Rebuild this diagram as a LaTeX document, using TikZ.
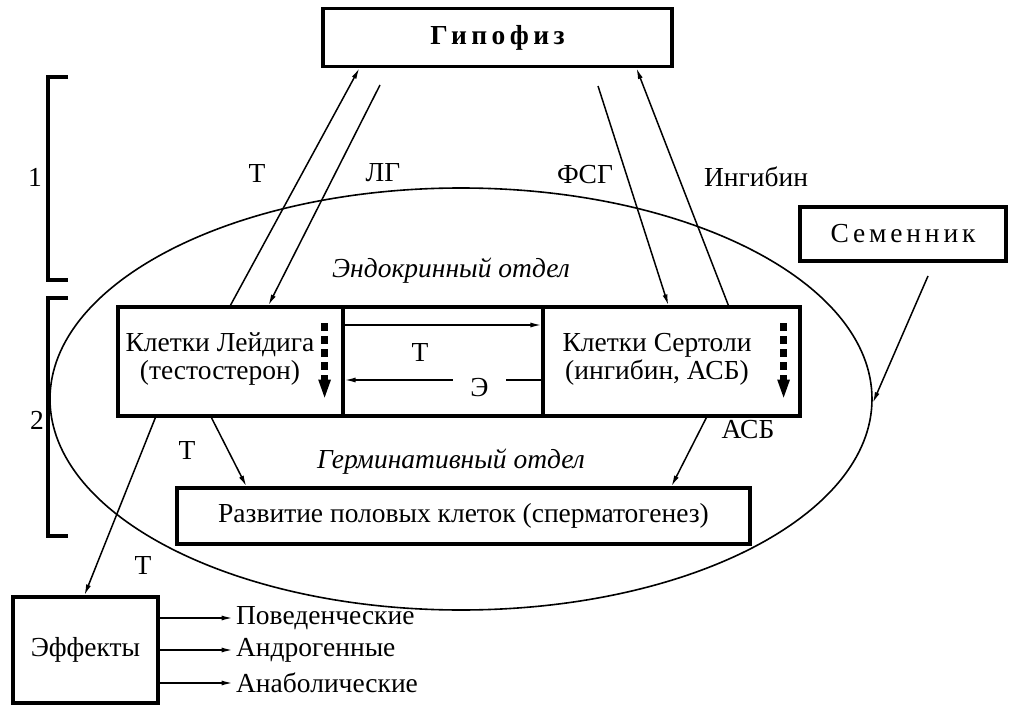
\documentclass[tikz,border=0pt]{standalone}
\usepackage{fontspec}
\setmainfont{Liberation Serif}
\usetikzlibrary{arrows.meta,shapes.geometric}
\newcommand{\razmer}{\fontsize{27.5}{28}\selectfont}

\begin{document}
\begin{tikzpicture}[x=1pt,y=-1pt,font=\razmer,
    blok/.style={draw,line width=3.2pt,inner sep=0pt},
    strelka/.style={line width=1.5pt,-{Latex[length=11pt,width=5pt]}},
    impuls/.style={line width=6.5pt,dash pattern=on 8pt off 5pt,-{Triangle[length=20pt,width=11pt]}},
    skobka/.style={line width=3.2pt},
    otdel/.style={font=\razmer\itshape}]
  \useasboundingbox (0,0) rectangle (1010,706);
  % гипофиз, семенник, яичко
  \node[blok,minimum width=349pt,minimum height=58pt] (gipofiz) at (497.5,37.5)
    {\bfseries\addfontfeature{LetterSpace=16}Гипофиз};
  \node[blok,minimum width=206pt,minimum height=54pt] (semennik) at (903,234)
    {\addfontfeature{LetterSpace=14}Семенник};
  \node[draw,ellipse,line width=1.6pt,minimum width=822pt,minimum height=422pt] (yaichko) at (461,399) {};
  % клетки
  \node[blok,minimum width=225pt,minimum height=109pt] (leydig) at (230.5,361.5) {};
  \node[blok,minimum width=200pt,minimum height=109pt] (mezhdu) at (443,361.5) {};
  \node[blok,minimum width=257pt,minimum height=109pt] (sertoli) at (671.5,361.5) {};
  \node[align=center] (leydigtxt) at (220,359) {Клетки Лейдига\\(тестостерон)};
  \node[align=center] (sertolitxt) at (657,359) {Клетки Сертоли\\(ингибин, АСБ)};
  \node[blok,minimum width=573pt,minimum height=56pt] (razvitie) at (463.5,516)
    {Развитие половых клеток (сперматогенез)};
  \node[blok,minimum width=145pt,minimum height=106pt] (effekty) at (85.5,650) {Эффекты};
  % подписи
  \node (t1) at (257,173) {Т};
  \node (lg) at (383,173) {ЛГ};
  \node (fsg) at (585,175) {ФСГ};
  \node (ingibin) at (756,177) {Ингибин};
  \node[otdel] (endokr) at (451,271) {Эндокринный отдел};
  \node[otdel] (germ) at (451,462) {Герминативный отдел};
  \node (t2) at (420,352) {Т};
  \node[inner sep=0pt,minimum width=53pt,text height=32pt,text depth=0pt] (ehstr) at (479.5,380) {Э};
  \node (t3) at (187,450) {Т};
  \node (t4) at (143,565) {Т};
  \node (asb) at (748,430) {АСБ};
  \node (n1) at (35,177) {1};
  \node (n2) at (37,420) {2};
  % скобки
  \draw[skobka] (68,77) -| (48,280) -- (68,280);
  \draw[skobka] (68,298) -| (48,536) -- (68,536);
  % стрелки
  \coordinate (lgstart) at (380,85);
  \coordinate (fsgstart) at (598,86);
  \coordinate (semstart) at (928,276);
  \draw[strelka] ([xshift=114pt]leydig.north west) -- ([xshift=38pt]gipofiz.south west);
  \draw[strelka] (lgstart) -- ([xshift=152pt]leydig.north west);
  \draw[strelka] (fsgstart) -- ([xshift=127pt]sertoli.north west);
  \draw[strelka] ([xshift=187pt]sertoli.north west) -- ([xshift=315pt]gipofiz.south west);
  \draw[strelka] (semstart) -- ([yshift=-4pt]yaichko.east);
  \draw[strelka] ([yshift=36.5pt]leydig.east) -- ([yshift=36.5pt]sertoli.west);
  \draw[strelka] ([yshift=-18.5pt]sertoli.west) -- (ehstr) -- ([yshift=-18.5pt]leydig.east);
  \draw[strelka] ([xshift=95pt]leydig.south west) -- ([xshift=71pt]razvitie.north west);
  \draw[strelka] ([xshift=39pt]leydig.south west) -- ([xshift=73pt]effekty.north west);
  \draw[strelka] ([xshift=165pt]sertoli.south west) -- ([xshift=496pt]razvitie.north west);
  \draw[impuls] ([xshift=-20pt,yshift=-18pt]leydig.north east) -- ([xshift=-20pt,yshift=18pt]leydig.south east);
  \draw[impuls] ([xshift=-18pt,yshift=-18pt]sertoli.north east) -- ([xshift=-18pt,yshift=18pt]sertoli.south east);
  % эффекты
  \foreach \dy/\imya/\tekst in {32/povedench/Поведенческие, 0/androgen/Андрогенные, -33/anabolich/Анаболические} {
    \node[anchor=west] (\imya) at ([xshift=73pt,yshift=\dy pt]effekty.east) {\tekst};
    \draw[strelka] ([yshift=\dy pt]effekty.east) -- (\imya.west);
  }
\end{tikzpicture}
\end{document}
